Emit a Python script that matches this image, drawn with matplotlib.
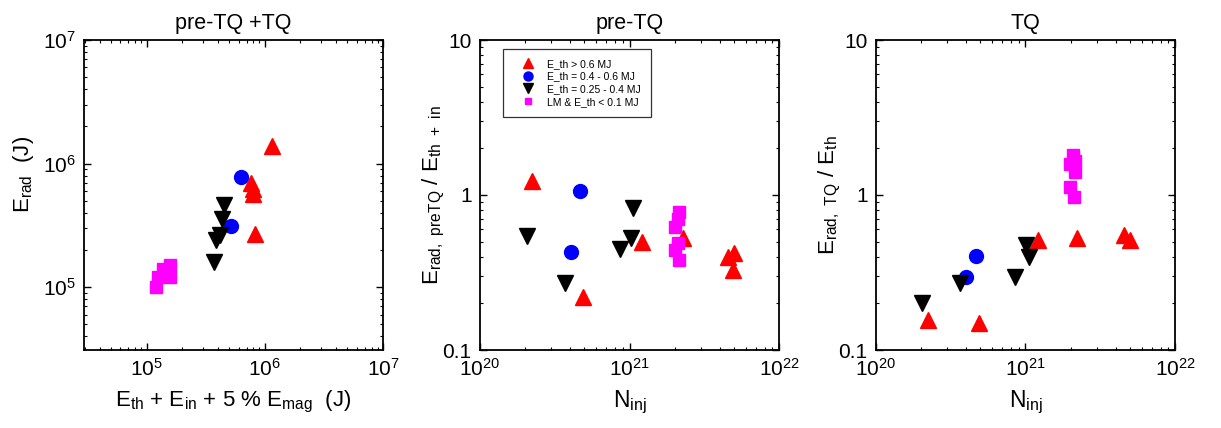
import matplotlib
matplotlib.use("Agg")
import matplotlib.pyplot as plt
from matplotlib.lines import Line2D
from matplotlib.ticker import FixedLocator, FixedFormatter, NullFormatter

plt.rcParams['font.family'] = ['Liberation Sans', 'DejaVu Sans']
plt.rcParams['mathtext.default'] = 'regular'

# ---------------- Data ----------------
# Panel 1: pre-TQ + TQ  (x = E_th + E_in + 5% E_mag [J], y = E_rad [J])
p1_red_x = [1.14e6, 7.7e5, 7.87e5, 7.96e5, 8.2e5]
p1_red_y = [1.40e6, 6.94e5, 6.25e5, 5.70e5, 2.71e5]
p1_blue_x = [6.27e5, 5.15e5]
p1_blue_y = [7.85e5, 3.14e5]
p1_black_x = [4.5e5, 4.35e5, 4.16e5, 3.85e5, 3.7e5]
p1_black_y = [4.59e5, 3.58e5, 2.62e5, 2.39e5, 1.60e5]
p1_mag_x = [1.19e5, 1.25e5, 1.37e5, 1.59e5, 1.59e5]
p1_mag_y = [1.00e5, 1.21e5, 1.39e5, 1.52e5, 1.21e5]

# Panel 2: pre-TQ  (x = N_inj, y = E_rad,preTQ / E_th+in)
p2_red_x = [2.23e20, 4.89e20, 1.21e21, 2.27e21, 4.59e21, 5.01e21, 4.93e21]
p2_red_y = [1.23, 0.219, 0.50, 0.525, 0.40, 0.42, 0.33]
p2_blue_x = [4.69e20, 4.08e20]
p2_blue_y = [1.06, 0.427]
p2_black_x = [2.05e20, 3.69e20, 8.58e20, 1.03e21, 1.05e21]
p2_black_y = [0.544, 0.269, 0.447, 0.525, 0.83]
p2_mag_x = [2.15e21, 2.1e21, 2.03e21, 2.1e21, 2.03e21, 2.15e21]
p2_mag_y = [0.78, 0.70, 0.625, 0.488, 0.44, 0.38]

# Panel 3: TQ  (x = N_inj, y = E_rad,TQ / E_th)
p3_red_x = [2.23e20, 4.86e20, 1.22e21, 2.21e21, 4.57e21, 4.99e21]
p3_red_y = [0.155, 0.149, 0.51, 0.525, 0.552, 0.512]
p3_blue_x = [4.67e20, 4.03e20]
p3_blue_y = [0.404, 0.294]
p3_black_x = [2.04e20, 3.63e20, 8.53e20, 1.05e21, 1.01e21]
p3_black_y = [0.202, 0.269, 0.297, 0.40, 0.475]
p3_mag_x = [2.07e21, 2.15e21, 1.97e21, 2.15e21, 1.99e21, 2.12e21]
p3_mag_y = [1.81, 1.66, 1.58, 1.41, 1.12, 0.975]

legend_labels = ["E_th > 0.6 MJ", "E_th = 0.4 - 0.6 MJ",
                 "E_th = 0.25 - 0.4 MJ", "LM & E_th < 0.1 MJ"]
titles = ["pre-TQ +TQ", "pre-TQ", "TQ"]

# ---------------- Figure ----------------
fig = plt.figure(figsize=(12.21, 4.28), dpi=100)
W, H = 1221.0, 428.0
lefts = [84, 480, 876]
axw, axh = 299, 310
bottom_px = 350
axes = [fig.add_axes([l / W, 1 - bottom_px / H, axw / W, axh / H]) for l in lefts]

RED, BLUE, BLACK, MAG = (1, 0, 0), (0, 0, 1), (0, 0, 0), (1, 0, 1)
ms_tri, ms_circ, ms_sq = 11.5, 10, 8.5

def draw(ax, rx, ry, bx, by, kx, ky, mx, my):
    ax.plot(rx, ry, ls='none', marker='^', color=RED, ms=ms_tri, mec=RED)
    ax.plot(bx, by, ls='none', marker='o', color=BLUE, ms=ms_circ, mec=BLUE)
    ax.plot(kx, ky, ls='none', marker='v', color=BLACK, ms=ms_tri, mec=BLACK)
    ax.plot(mx, my, ls='none', marker='s', color=MAG, ms=ms_sq, mec=MAG)

draw(axes[0], p1_red_x, p1_red_y, p1_blue_x, p1_blue_y, p1_black_x, p1_black_y, p1_mag_x, p1_mag_y)
draw(axes[1], p2_red_x, p2_red_y, p2_blue_x, p2_blue_y, p2_black_x, p2_black_y, p2_mag_x, p2_mag_y)
draw(axes[2], p3_red_x, p3_red_y, p3_blue_x, p3_blue_y, p3_black_x, p3_black_y, p3_mag_x, p3_mag_y)

for ax, t in zip(axes, titles):
    ax.set_xscale('log')
    ax.set_yscale('log')
    ax.set_title(t, fontsize=15.5, pad=8)
    ax.tick_params(which='both', direction='in', top=True, right=True)
    ax.tick_params(which='major', length=5, width=1.0, labelsize=15, pad=6)
    ax.tick_params(which='minor', length=2.5, width=0.8)
    for s in ax.spines.values():
        s.set_linewidth(1.3)

# Panel 1 axes
ax = axes[0]
ax.set_xlim(2.95e4, 1e7)
ax.set_ylim(3.1e4, 1e7)
ax.xaxis.set_major_locator(FixedLocator([1e5, 1e6, 1e7]))
ax.yaxis.set_major_locator(FixedLocator([1e5, 1e6, 1e7]))
ax.set_xlabel(r'$E_{th}$ + $E_{in}$ + 5 % $E_{mag}$  (J)', fontsize=16, labelpad=6)
ax.set_ylabel(r'$E_{rad}$  (J)', fontsize=16, labelpad=4)
ax.yaxis.set_label_coords(-0.16, 0.565)

# Panels 2 & 3
for ax in axes[1:]:
    ax.set_xlim(1e20, 1e22)
    ax.set_ylim(0.1, 10)
    ax.xaxis.set_major_locator(FixedLocator([1e20, 1e21, 1e22]))
    ax.yaxis.set_major_locator(FixedLocator([0.1, 1, 10]))
    ax.yaxis.set_major_formatter(FixedFormatter(['0.1', '1', '10']))
    ax.yaxis.set_minor_formatter(NullFormatter())
    ax.set_xlabel(r'$N_{inj}$', fontsize=16.5, labelpad=6)

axes[1].set_ylabel(r'$E_{rad,\ preTQ}$ / $E_{th\ +\ in}$', fontsize=16, labelpad=-3)
axes[2].set_ylabel(r'$E_{rad,\ TQ}$ / $E_{th}$', fontsize=16, labelpad=-3)

handles = [
    Line2D([], [], ls='none', marker='^', color=RED, ms=6.5),
    Line2D([], [], ls='none', marker='o', color=BLUE, ms=6.5),
    Line2D([], [], ls='none', marker='v', color=BLACK, ms=6.5),
    Line2D([], [], ls='none', marker='s', color=MAG, ms=5),
]
leg = axes[1].legend(handles, legend_labels, loc='upper left',
                     bbox_to_anchor=(0.077, 0.971), borderaxespad=0,
                     fontsize=7.5, frameon=True,
                     fancybox=False, edgecolor='black', borderpad=0.95,
                     handletextpad=0.5, labelspacing=0.25, handlelength=2.8)
leg.get_frame().set_linewidth(0.9)

fig.savefig('out.png', dpi=100)
